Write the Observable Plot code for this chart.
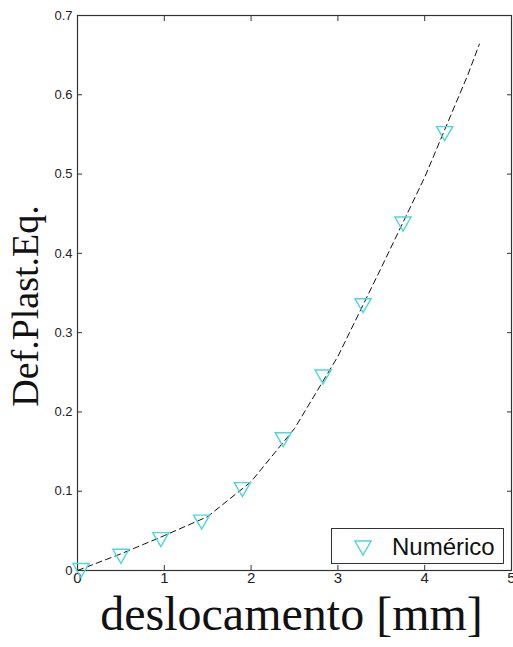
<!DOCTYPE html>
<html>
<head>
<meta charset="utf-8">
<script src="https://cdn.jsdelivr.net/npm/d3@7"></script>
<script src="https://cdn.jsdelivr.net/npm/@observablehq/plot@0.6"></script>
<style>
  body { margin: 0; background: #fff; }
  #wrap { position: relative; width: 513px; height: 647px; }
  #legend { position: absolute; left: 331px; top: 528px; width: 171px; height: 34px;
    border: 1px solid #333; background: #fff; box-sizing: content-box; }
</style>
</head>
<body>
<div id="wrap"></div>
<script>
// Numerical results (markers)
const dispPoints = [0.04, 0.50, 0.96, 1.43, 1.90, 2.37, 2.83, 3.29, 3.75, 4.23];
const strainPoints = [0.0, 0.018, 0.039, 0.061, 0.102, 0.165, 0.244, 0.334, 0.437, 0.551];
// Reference curve (dashed)
const dispCurve = [0, 0.5, 1.0, 1.5, 2.0, 2.5, 3.0, 3.5, 4.0, 4.5, 4.63];
const strainCurve = [0, 0.021, 0.044, 0.068, 0.112, 0.179, 0.270, 0.382, 0.496, 0.626, 0.664];
const xTicks = [0, 1, 2, 3, 4, 5];
const yTicks = [0, 0.1, 0.2, 0.3, 0.4, 0.5, 0.6, 0.7];
const xLabel = "deslocamento [mm]";
const yLabel = "Def.Plast.Eq.";
const seriesName = "Numérico";

const points = dispPoints.map((x, i) => ({x, y: strainPoints[i]}));
const curve = dispCurve.map((x, i) => ({x, y: strainCurve[i]}));

// downward triangle centered on its bounding box
const triDown = {
  draw(ctx, size) {
    const h = Math.sqrt(size / (Math.sqrt(3) * 3));
    const w = Math.sqrt(3) * h;
    ctx.moveTo(-w, -1.5 * h);
    ctx.lineTo(w, -1.5 * h);
    ctx.lineTo(0, 1.5 * h);
    ctx.closePath();
  }
};

const cyan = "#4fd6d6";
const axisColor = "#333";
const sans = "Liberation Sans, Arial, sans-serif";
const serif = "Liberation Serif, Times New Roman, serif";

const chart = Plot.plot({
  width: 513,
  height: 647,
  marginLeft: 77,
  marginRight: 2,
  marginTop: 15,
  marginBottom: 77,
  style: {background: "white", color: "#222", fontFamily: sans},
  x: {domain: [0, 5]},
  y: {domain: [0, 0.7]},
  marks: [
    Plot.frame({stroke: axisColor, strokeWidth: 1.2}),
    Plot.axisX(xTicks, {anchor: "bottom", tickSize: -5, tickPadding: 7, fontSize: 15, label: null,
      stroke: axisColor, fill: "#222", tickFormat: d => String(d)}),
    Plot.axisX(xTicks, {anchor: "top", tickSize: -5, label: null, stroke: axisColor, tickFormat: () => ""}),
    Plot.axisY(yTicks, {anchor: "left", tickSize: -5, tickPadding: 10, fontSize: 13, label: null,
      stroke: axisColor, fill: "#222", tickFormat: d => String(+d.toFixed(1))}),
    Plot.axisY(yTicks, {anchor: "right", tickSize: -5, label: null, stroke: axisColor, tickFormat: () => ""}),
    Plot.line(curve, {x: "x", y: "y", stroke: "#111", strokeWidth: 1, strokeDasharray: "6,4"}),
    Plot.dot(points, {x: "x", y: "y", symbol: triDown, r: 6, stroke: cyan, strokeWidth: 1.4, fill: "none"}),
    Plot.text([xLabel], {frameAnchor: "bottom", dx: -3, dy: 59, text: d => d, fontSize: 48,
      fontFamily: serif, fill: "#111", lineAnchor: "bottom", textAnchor: "middle"}),
    Plot.text([yLabel], {frameAnchor: "left", dx: -40, dy: 13, rotate: -90, text: d => d, fontSize: 38,
      fontFamily: serif, fill: "#111", lineAnchor: "bottom", textAnchor: "middle"})
  ]
});

const wrap = document.getElementById("wrap");
wrap.appendChild(chart);

// Legend box (inside plot, lower right)
const legend = document.createElement("div");
legend.id = "legend";
legend.innerHTML = `<svg width="171" height="34">
  <path d="${(() => { const p = d3.path(); triDown.draw(p, Math.PI * 36); return p.toString(); })()}"
    transform="translate(31,19)" fill="none" stroke="${cyan}" stroke-width="1.4"/>
  <text x="60" y="26" font-family="${sans}" font-size="24" fill="#111">${seriesName}</text>
</svg>`;
wrap.appendChild(legend);
</script>
</body>
</html>
